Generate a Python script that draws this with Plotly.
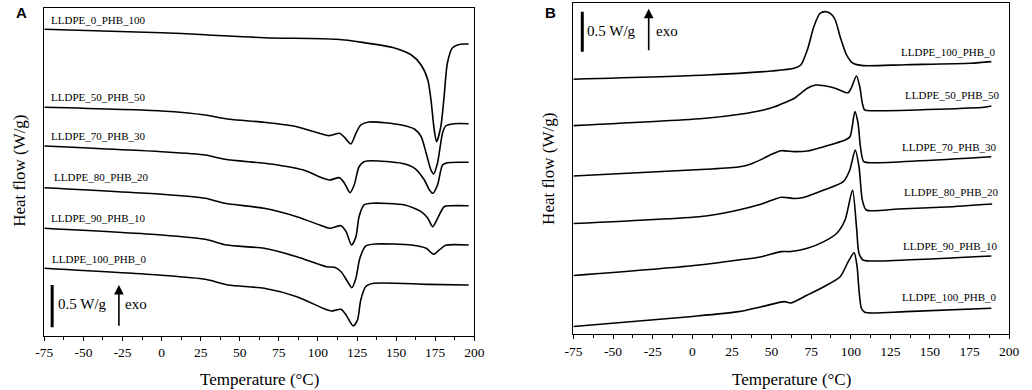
import plotly.graph_objects as go

W, H = 1032, 390
SERIF = "Liberation Serif"
SANS = "Liberation Sans"

# ---------------- Panel A (heating) : temperature (°C) and heat flow (W/g, offset) -------------
a_names = ["LLDPE_0_PHB_100", "LLDPE_50_PHB_50", "LLDPE_70_PHB_30",
           "LLDPE_80_PHB_20", "LLDPE_90_PHB_10", "LLDPE_100_PHB_0"]

a1_T = [-75, 0, 28, 65.6, 112, 128.4, 149, 159.8, 166, 170.3, 172.3, 174.4, 175.9, 178.6, 180.7, 182.8, 186, 191, 196.4]
a1_H = [3.651, 3.611, 3.587, 3.551, 3.532, 3.496, 3.429, 3.345, 3.226, 3.048, 2.810, 2.452, 2.313, 2.492, 2.849, 3.250, 3.429, 3.473, 3.476]

a2_T = [-75, 0, 28, 38.4, 45, 65.6, 86.5, 103.3, 107.5, 113.8, 117, 121.1, 124.3, 127.4, 132.6, 153.5, 161.9, 166, 169.2, 172.3, 174, 176.5, 179.7, 181.7, 187, 196.4]
a2_H = [2.723, 2.679, 2.631, 2.595, 2.577, 2.544, 2.492, 2.401, 2.385, 2.413, 2.365, 2.286, 2.413, 2.512, 2.548, 2.512, 2.461, 2.373, 2.179, 1.976, 1.929, 2.060, 2.417, 2.500, 2.527, 2.527]

a3_T = [-75, 0, 28, 40.5, 69.8, 90.8, 103.3, 107.5, 113.8, 117, 120.5, 123.2, 126.3, 129.5, 134.7, 153.5, 161.9, 168.1, 171.3, 173.4, 176.5, 179.7, 182.8, 196.4]
a3_H = [2.262, 2.194, 2.155, 2.104, 2.048, 1.976, 1.877, 1.857, 1.885, 1.818, 1.706, 1.798, 2.015, 2.075, 2.087, 2.056, 1.996, 1.857, 1.738, 1.699, 1.798, 2.036, 2.063, 2.068]

a4_T = [-75, 0, 28, 40.5, 65.6, 86.5, 101.2, 107.5, 114.8, 118, 121.5, 124.3, 126.3, 129.5, 134.7, 155.6, 166, 170.3, 173.4, 176.5, 180.7, 184.9, 196.4]
a4_H = [1.765, 1.687, 1.639, 1.580, 1.520, 1.420, 1.321, 1.282, 1.313, 1.242, 1.083, 1.182, 1.420, 1.560, 1.580, 1.560, 1.480, 1.401, 1.301, 1.401, 1.539, 1.551, 1.551]

a5_T = [-75, 0, 28, 41.6, 65.6, 86.5, 105.4, 110.6, 114.8, 119, 121.7, 124.3, 126.8, 130.5, 136.8, 159.8, 169.2, 174, 177.6, 181.7, 196.4]
a5_H = [1.282, 1.202, 1.151, 1.083, 1.044, 0.944, 0.825, 0.818, 0.765, 0.646, 0.575, 0.687, 0.925, 1.071, 1.095, 1.083, 1.044, 0.973, 1.024, 1.080, 1.083]

a6_T = [-75, 0, 28, 42.6, 65.6, 86.5, 103.3, 108.5, 114.8, 118, 122.6, 125.3, 127.4, 130.5, 135.7, 170.3, 196.4]
a6_H = [0.806, 0.723, 0.675, 0.607, 0.568, 0.468, 0.330, 0.298, 0.318, 0.250, 0.119, 0.190, 0.429, 0.587, 0.627, 0.615, 0.607]

a_label_T = [-71.9, -71.9, -71.9, -70.0, -71.9, -71.2]
a_label_H = [3.762, 2.845, 2.381, 1.893, 1.408, 0.913]

# ---------------- Panel B (cooling) ----------------
b_names = ["LLDPE_100_PHB_0", "LLDPE_50_PHB_50", "LLDPE_70_PHB_30",
           "LLDPE_80_PHB_20", "LLDPE_90_PHB_10", "LLDPE_100_PHB_0"]

b1_T = [-75, 8.6, 49.9, 64.4, 68.5, 72.6, 76.7, 80.5, 84, 87.5, 90.2, 93.3, 97.4, 101.5, 107.7, 134.5, 175.8, 188.7]
b1_H = [3.188, 3.241, 3.291, 3.325, 3.366, 3.554, 3.845, 4.010, 4.033, 4.004, 3.929, 3.720, 3.491, 3.388, 3.358, 3.370, 3.388, 3.408]

b2_T = [-75, 8.6, 30, 45, 52, 58.2, 64.4, 72.6, 77.8, 89.1, 95.3, 98.4, 100.5, 103.6, 105.7, 107.3, 108.8, 113.9, 155.2, 184.1, 188.7]
b2_H = [2.608, 2.700, 2.750, 2.804, 2.845, 2.895, 2.950, 3.075, 3.116, 3.083, 3.033, 3.020, 3.088, 3.229, 3.095, 2.888, 2.804, 2.795, 2.813, 2.838, 2.854]

b3_T = [-75, 8.6, 30, 37, 44, 50, 56, 64.4, 72.6, 83, 96.4, 99.5, 102.6, 104.6, 106.1, 108.2, 113.9, 188.7]
b3_H = [1.979, 2.063, 2.095, 2.130, 2.190, 2.250, 2.295, 2.283, 2.291, 2.345, 2.429, 2.470, 2.783, 2.638, 2.345, 2.158, 2.145, 2.220]

b4_T = [-75, 8.6, 29.2, 43.7, 56.1, 64.4, 70, 83, 95.3, 99.4, 102.8, 105.2, 107.3, 109.8, 130, 160, 189.2]
b4_H = [1.385, 1.479, 1.554, 1.629, 1.713, 1.698, 1.710, 1.804, 1.908, 2.054, 2.304, 2.095, 1.679, 1.554, 1.566, 1.591, 1.629]

b5_T = [-75, -1.7, 29.2, 43.7, 56.1, 62.3, 72.6, 83, 91.2, 96.4, 101.1, 103.6, 105.2, 107.7, 134.5, 188.7]
b5_H = [0.735, 0.854, 0.929, 0.970, 1.033, 1.035, 1.075, 1.158, 1.263, 1.429, 1.804, 1.345, 1.013, 0.929, 0.929, 0.979]

b6_T = [-75, -1.7, 29.2, 43.7, 58.2, 62, 72.6, 83, 93.3, 98.4, 102.1, 104, 105.2, 106.7, 108.8, 134.5, 188.7]
b6_H = [0.098, 0.220, 0.283, 0.345, 0.408, 0.391, 0.491, 0.595, 0.720, 0.908, 1.020, 0.845, 0.554, 0.325, 0.275, 0.283, 0.325]

b_label_T = [130.4, 133.1, 131.3, 132.5, 131.9, 131.1]
b_label_H = [3.525, 2.991, 2.345, 1.783, 1.104, 0.470]

x_ticks = [-75, -50, -25, 0, 25, 50, 75, 100, 125, 150, 175, 200]
x_tick_text = [str(v) for v in x_ticks]

a_curves = [(a1_T, a1_H), (a2_T, a2_H), (a3_T, a3_H), (a4_T, a4_H), (a5_T, a5_H), (a6_T, a6_H)]
b_curves = [(b1_T, b1_H), (b2_T, b2_H), (b3_T, b3_H), (b4_T, b4_H), (b5_T, b5_H), (b6_T, b6_H)]

fig = go.Figure()
for (t, h), n in zip(a_curves, a_names):
    fig.add_trace(go.Scatter(x=t, y=h, mode="lines", name=n, xaxis="x", yaxis="y",
                             line=dict(color="black", width=1.6, shape="spline", smoothing=0.7),
                             showlegend=False, hoverinfo="skip"))
for (t, h), n in zip(b_curves, b_names):
    fig.add_trace(go.Scatter(x=t, y=h, mode="lines", name=n, xaxis="x2", yaxis="y2",
                             line=dict(color="black", width=1.6, shape="spline", smoothing=0.7),
                             showlegend=False, hoverinfo="skip"))

ann = []
for n, t, h in zip(a_names, a_label_T, a_label_H):
    ann.append(dict(x=t, y=h, xref="x", yref="y", text=n, showarrow=False, xanchor="left",
                    yanchor="middle", font=dict(family=SERIF, size=11, color="black")))
for n, t, h in zip(b_names, b_label_T, b_label_H):
    ann.append(dict(x=t, y=h, xref="x2", yref="y2", text=n, showarrow=False, xanchor="left",
                    yanchor="middle", font=dict(family=SERIF, size=11, color="black")))

# scale bars and exo arrows
A_BAR_T, A_BAR_Y0, A_BAR_Y1 = -70, 0.104, 0.607
A_ARR_T = -27.3
B_BAR_T, B_BAR_Y0, B_BAR_Y1 = -69.4, 3.533, 4.033
B_ARR_T = -27.5

shapes = [
    dict(type="line", xref="x", yref="y", x0=A_BAR_T, x1=A_BAR_T, y0=A_BAR_Y0, y1=A_BAR_Y1,
         line=dict(color="black", width=3)),
    dict(type="line", xref="x2", yref="y2", x0=B_BAR_T, x1=B_BAR_T, y0=B_BAR_Y0, y1=B_BAR_Y1,
         line=dict(color="black", width=3)),
]
ann += [
    dict(x=-67.5, y=(A_BAR_Y0 + A_BAR_Y1) / 2 + 0.02, xref="x", yref="y", text="0.5 W/g", showarrow=False,
         xanchor="left", yanchor="middle", font=dict(family=SERIF, size=15, color="black")),
    dict(x=A_ARR_T, y=A_BAR_Y1, ax=A_ARR_T, ay=A_BAR_Y0, xref="x", yref="y", axref="x", ayref="y",
         text="", showarrow=True, arrowhead=2, arrowsize=1.2, arrowwidth=1.6, arrowcolor="black"),
    dict(x=-24.8, y=(A_BAR_Y0 + A_BAR_Y1) / 2 + 0.02, xref="x", yref="y", text="exo", showarrow=False,
         xanchor="left", yanchor="middle", font=dict(family=SERIF, size=15, color="black")),
    dict(x=-67.5, y=3.791, xref="x2", yref="y2", text="0.5 W/g", showarrow=False,
         xanchor="left", yanchor="middle", font=dict(family=SERIF, size=15, color="black")),
    dict(x=B_ARR_T, y=4.07, ax=B_ARR_T, ay=B_BAR_Y0, xref="x2", yref="y2", axref="x2", ayref="y2",
         text="", showarrow=True, arrowhead=2, arrowsize=1.2, arrowwidth=1.6, arrowcolor="black"),
    dict(x=-24.4, y=3.791, xref="x2", yref="y2", text="exo", showarrow=False,
         xanchor="left", yanchor="middle", font=dict(family=SERIF, size=15, color="black")),
]

# titles and panel letters
ann += [
    dict(x=255 / W, y=1 - 379 / H, xref="paper", yref="paper", text="Temperature (°C)", showarrow=False,
         xanchor="center", yanchor="middle", font=dict(family=SERIF, size=17, color="black")),
    dict(x=797 / W, y=1 - 379 / H, xref="paper", yref="paper", text="Temperature (°C)", showarrow=False,
         xanchor="center", yanchor="middle", font=dict(family=SERIF, size=17, color="black")),
    dict(x=10 / W, y=1 - 171 / H, xref="paper", yref="paper", text="Heat flow (W/g)", showarrow=False,
         textangle=-90, xanchor="center", yanchor="middle", font=dict(family=SERIF, size=17, color="black")),
    dict(x=549 / W, y=1 - 169 / H, xref="paper", yref="paper", text="Heat flow (W/g)", showarrow=False,
         textangle=-90, xanchor="center", yanchor="middle", font=dict(family=SERIF, size=17, color="black")),
    dict(x=12.5 / W, y=1 - 13 / H, xref="paper", yref="paper", text="<b>A</b>", showarrow=False,
         xanchor="center", yanchor="middle", font=dict(family=SANS, size=15, color="black")),
    dict(x=551.5 / W, y=1 - 12.5 / H, xref="paper", yref="paper", text="<b>B</b>", showarrow=False,
         xanchor="center", yanchor="middle", font=dict(family=SANS, size=15, color="black")),
]

xcommon = dict(range=[-75, 200], tickmode="array", tickvals=x_ticks, ticktext=x_tick_text,
               ticks="outside", ticklen=4, tickwidth=1, tickcolor="black",
               minor=dict(ticks="outside", ticklen=3, tickwidth=1, tickcolor="black", dtick=12.5, tick0=-75, showgrid=False),
               showline=True, linecolor="black", linewidth=1, mirror=True, showgrid=False, zeroline=False,
               tickfont=dict(family=SERIF, size=13.5, color="black"))
ycommon = dict(showline=True, linecolor="black", linewidth=1, mirror=True, showgrid=False, zeroline=False,
               showticklabels=False, ticks="")

fig.update_layout(
    width=W, height=H, margin=dict(l=0, r=0, t=0, b=0),
    paper_bgcolor="white", plot_bgcolor="white",
    font=dict(family=SERIF, color="black"),
    xaxis=dict(domain=[36 / W, 474 / W], anchor="y", **xcommon),
    yaxis=dict(domain=[1 - 336 / H, 1 - 8 / H], anchor="x", range=[0, 328 / 84], **ycommon),
    xaxis2=dict(domain=[575 / W, 1019 / W], anchor="y2", **xcommon),
    yaxis2=dict(domain=[1 - 334.3 / H, 1 - 3.3 / H], anchor="x2", range=[0, 331 / 80], **ycommon),
    annotations=ann, shapes=shapes,
)

fig.write_html("out.html", config={"displayModeBar": False},
               post_script="document.body.style.margin='0';document.body.style.padding='0';document.body.style.overflow='hidden';")
